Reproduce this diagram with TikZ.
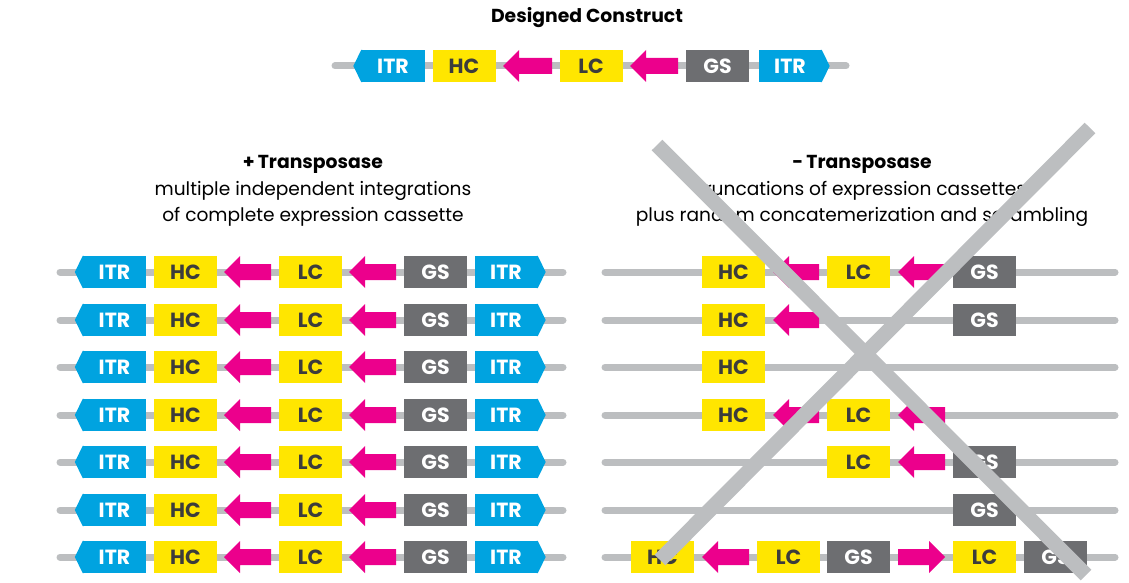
\documentclass[tikz,border=0pt]{standalone}
\usepackage{fontspec}
\setmainfont{Poppins}
\definecolor{itrblue}{HTML}{00A3E0}
\definecolor{geneyellow}{HTML}{FFE600}
\definecolor{promag}{HTML}{EC008C}
\definecolor{gsgrey}{HTML}{6D6E71}
\definecolor{dnagrey}{HTML}{BCBEC0}
\definecolor{labeldark}{HTML}{3C3C3C}
\tikzset{
  box/.style={rectangle, inner sep=0pt, minimum width=63pt, minimum height=32pt,
              font=\fontsize{20.5}{20.5}\selectfont\bfseries},
  itrbox/.style={box, fill=itrblue, text=white},
  genebox/.style={box, fill=geneyellow, text=labeldark},
  gsbox/.style={box, fill=gsgrey, text=white},
  dna/.style={draw=dnagrey, line width=7pt, line cap=round},
  crossbar/.style={draw=dnagrey, line width=15pt},
  heading/.style={font=\fontsize{18.8}{18.8}\selectfont\bfseries, text=black},
  body/.style={font=\fontsize{18.6}{18.6}\selectfont, text=black},
}
% left-pointing promoter arrow: tip x, tail x, centre y
\newcommand{\promL}[3]{\fill[promag] (#1,#3) -- (#1+16,#3-16) -- (#1+16,#3-8) -- (#2,#3-8) -- (#2,#3+8) -- (#1+16,#3+8) -- (#1+16,#3+16) -- cycle;}
% right-pointing promoter arrow: tail x, tip x, centre y
\newcommand{\promR}[3]{\fill[promag] (#2,#3) -- (#2-16,#3-16) -- (#2-16,#3-8) -- (#1,#3-8) -- (#1,#3+8) -- (#2-16,#3+8) -- (#2-16,#3+16) -- cycle;}
% ITR tips
\newcommand{\tipL}[1]{\fill[itrblue] (#1.north west) -- ([xshift=-8pt]#1.west) -- (#1.south west) -- ([xshift=1pt]#1.south west) -- ([xshift=1pt]#1.north west) -- cycle;}
\newcommand{\tipR}[1]{\fill[itrblue] (#1.north east) -- ([xshift=8pt]#1.east) -- (#1.south east) -- ([xshift=-1pt]#1.south east) -- ([xshift=-1pt]#1.north east) -- cycle;}
% complete cassette row: name prefix, y
\newcommand{\fullrow}[2]{%
  \coordinate (#1s) at (60,#2); \coordinate (#1e) at (563,#2);
  \draw[dna] (#1s) -- (#1e);
  \node[itrbox] (#1a) at (114.5,#2) {ITR}; \tipL{#1a}
  \node[genebox] (#1h) at (185.5,#2) {HC};
  \promL{224}{271}{#2}
  \node[genebox] (#1l) at (310.5,#2) {LC};
  \promL{349}{396}{#2}
  \node[gsbox] (#1g) at (435.5,#2) {GS};
  \node[itrbox] (#1b) at (506,#2) {ITR}; \tipR{#1b}
}
\newcommand{\bareline}[2]{\coordinate (#1s) at (605,#2); \coordinate (#1e) at (1115,#2); \draw[dna] (#1s) -- (#1e);}
\begin{document}
\begin{tikzpicture}[x=1pt,y=-1pt]
\useasboundingbox (0,0) rectangle (1129,583);

% designed construct
\node[heading] (title) at (587,18) {Designed Construct};
\coordinate (cs) at (335,66); \coordinate (ce) at (846,66);
\draw[dna] (cs) -- (ce);
\node[itrbox] (ta) at (393,66) {ITR}; \tipL{ta}
\node[genebox] (th) at (464,66) {HC};
\promL{503}{552}{66}
\node[genebox] (tl) at (591,66) {LC};
\promL{630}{678}{66}
\node[gsbox] (tg) at (717.5,66) {GS};
\node[itrbox] (tb) at (790,66) {ITR}; \tipR{tb}

% headings
\node[heading] (plus) at (313,164) {+\,Transposase};
\node[body] (plus1) at (313,191) {multiple independent integrations};
\node[body] (plus2) at (313,217) {of complete expression cassette};
\node[heading] (minus) at (862,164) {-\,Transposase};
\node[body] (minus1) at (862,191) {truncations of expression cassettes};
\node[body] (minus2) at (862,217) {plus random concatemerization and scrambling};

% with transposase: seven complete cassettes
\fullrow{p1}{272}
\fullrow{p2}{320}
\fullrow{p3}{367}
\fullrow{p4}{415}
\fullrow{p5}{462}
\fullrow{p6}{510}
\fullrow{p7}{557}

% without transposase: fragments
\bareline{m1}{272}
\node[genebox] (m1h) at (733.5,272) {HC};
\promL{773}{819}{272}
\node[genebox] (m1l) at (858.5,272) {LC};
\promL{898}{945}{272}
\node[gsbox] (m1g) at (984.5,272) {GS};

\bareline{m2}{320}
\node[genebox] (m2h) at (733.5,320) {HC};
\promL{773}{819}{320}
\node[gsbox] (m2g) at (984.5,320) {GS};

\bareline{m3}{367}
\node[genebox] (m3h) at (733.5,367) {HC};

\bareline{m4}{415}
\node[genebox] (m4h) at (733.5,415) {HC};
\promL{773}{819}{415}
\node[genebox] (m4l) at (858.5,415) {LC};
\promL{898}{945}{415}

\bareline{m5}{462}
\node[genebox] (m5l) at (858.5,462) {LC};
\promL{898}{945}{462}
\node[gsbox] (m5g) at (984.5,462) {GS};

\bareline{m6}{510}
\node[gsbox] (m6g) at (984.5,510) {GS};

\bareline{m7}{557}
\node[genebox] (m7h) at (662.5,557) {HC};
\promL{702}{749}{557}
\node[genebox] (m7l) at (788.5,557) {LC};
\node[gsbox] (m7g) at (858.5,557) {GS};
\promR{898}{945}{557}
\node[genebox] (m7m) at (984.5,557) {LC};
\node[gsbox] (m7n) at (1055.5,557) {GS};

% crossing out
\coordinate (xa1) at (657,145); \coordinate (xa2) at (1086,575);
\coordinate (xb1) at (1090,128); \coordinate (xb2) at (660,560);
\draw[crossbar] (xa1) -- (xa2);
\draw[crossbar] (xb1) -- (xb2);
\end{tikzpicture}
\end{document}
